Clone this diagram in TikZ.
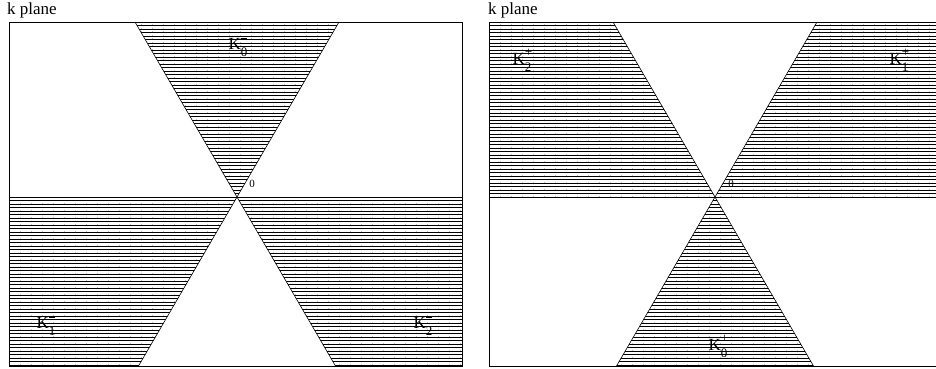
\documentclass[tikz,border=0pt]{standalone}
\usepackage{fontspec}
\setmainfont{Liberation Serif}
\newcommand{\Klab}[2]{K\makebox[0pt][l]{\raisebox{1.05ex}{\fontsize{13}{13}\selectfont #2}}\raisebox{-0.85ex}{\fontsize{13}{13}\selectfont #1}}
\newcommand{\minbar}{\rule[0.45ex]{0.45em}{1.1pt}}
\begin{document}
\begin{tikzpicture}[x=1pt,y=-1pt,
  boxline/.style={draw=black,line width=0.7pt},
  edge/.style={draw=black,line width=0.6pt},
  hatchline/.style={line width=0.6pt},
  dotline/.style={gray!50,line width=0.3pt,dash pattern=on 1pt off 2.5pt},
  lbl/.style={inner sep=0pt,font=\fontsize{17}{17}\selectfont},
  zlbl/.style={inner sep=0pt,font=\fontsize{11}{11}\selectfont}]
\useasboundingbox (0,0) rectangle (936,369);
% ---------- left panel ----------
\coordinate (LO) at (237,197);
\coordinate (LA) at (135,22);
\coordinate (LB) at (339,22);
\coordinate (LC) at (138.5,366);
\coordinate (LD) at (335.5,366);
\begin{scope}
  \clip (LA) -- (LB) -- (LO) -- cycle
        (9,197) -- (LO) -- (LC) -- (9,366) -- cycle
        (LO) -- (462,197) -- (462,366) -- (LD) -- cycle;
  \foreach \xx in {20,31,...,470} \draw[dotline] (\xx,0) -- (\xx,369);
  \foreach \yy in {22,25.5,...,367} \draw[hatchline] (0,\yy) -- (936,\yy);
\end{scope}
\draw[boxline] (9,22) rectangle (462,366);
\draw[edge] (9,197) -- (462,197);
\draw[edge] (LA) -- (LD);
\draw[edge] (LB) -- (LC);
\node[lbl,anchor=base west] (lt) at (7,15) {k plane};
\node[lbl] (k0m) at (238,47) {\Klab{0}{\minbar}};
\node[zlbl] (z1) at (252,184) {0};
\node[lbl] (k1m) at (46,326) {\Klab{1}{\minbar}};
\node[lbl] (k2m) at (423,326) {\Klab{2}{\minbar}};
% ---------- right panel ----------
\coordinate (RO) at (715,197);
\coordinate (RA) at (613,22);
\coordinate (RB) at (817,22);
\coordinate (RC) at (616.5,366);
\coordinate (RD) at (813.5,366);
\begin{scope}
  \clip (489,22) -- (RA) -- (RO) -- (489,197) -- cycle
        (RB) -- (936,22) -- (936,197) -- (RO) -- cycle
        (RO) -- (RC) -- (RD) -- cycle;
  \foreach \xx in {500,511,...,936} \draw[dotline] (\xx,0) -- (\xx,369);
  \foreach \yy in {22,25.5,...,367} \draw[hatchline] (480,\yy) -- (936,\yy);
\end{scope}
\draw[boxline] (489,22) -- (936,22) (489,22) -- (489,366) -- (936,366);
\draw[edge] (489,197) -- (936,197);
\draw[edge] (RA) -- (RD);
\draw[edge] (RB) -- (RC);
\node[lbl,anchor=base west] (rt) at (488,15) {k plane};
\node[lbl] (k2p) at (522,60) {\Klab{2}{+}};
\node[lbl] (k1p) at (899,60) {\Klab{1}{+}};
\node[zlbl] (z2) at (731,184) {0};
\node[lbl] (k0p) at (718,346) {\Klab{0}{+}};
\end{tikzpicture}
\end{document}
